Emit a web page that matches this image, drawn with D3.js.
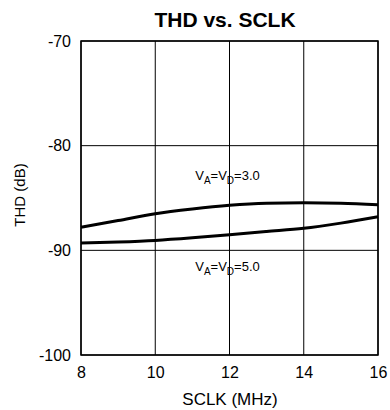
<!DOCTYPE html>
<html>
<head>
<meta charset="utf-8">
<script src="https://cdn.jsdelivr.net/npm/d3@7"></script>
<style>
  html, body { margin: 0; padding: 0; background: #fff; }
  svg { display: block; font-family: Arial, "Liberation Sans", Helvetica, sans-serif; }
</style>
</head>
<body>
<svg id="chart" width="390" height="410"></svg>
<script>
const sclk = [8, 9, 10, 11, 12, 13, 14, 15, 16];
const thd3v = [-87.8, -87.15, -86.5, -86.05, -85.7, -85.5, -85.45, -85.5, -85.65];
const thd5v = [-89.3, -89.2, -89.05, -88.8, -88.5, -88.2, -87.9, -87.4, -86.8];
const xTicks = [8, 10, 12, 14, 16];
const yTicks = [-70, -80, -90, -100];
const title = "THD vs. SCLK";
const xTitle = "SCLK (MHz)";
const yTitle = "THD (dB)";

const svg = d3.select("#chart");
const m = {left: 81, right: 378, top: 41, bottom: 355};
const x = d3.scaleLinear().domain([8, 16]).range([m.left, m.right]);
const y = d3.scaleLinear().domain([-100, -70]).range([m.bottom, m.top]);

// grid
const g = svg.append("g");
g.selectAll("line.vg").data(xTicks).join("line")
  .attr("x1", d => x(d)).attr("x2", d => x(d))
  .attr("y1", m.top).attr("y2", m.bottom)
  .attr("stroke", "#000").attr("stroke-width", 1);
g.selectAll("line.hg").data(yTicks).join("line")
  .attr("y1", d => y(d)).attr("y2", d => y(d))
  .attr("x1", m.left).attr("x2", m.right)
  .attr("stroke", "#000").attr("stroke-width", 1);
svg.append("rect").attr("x", m.left).attr("y", m.top)
  .attr("width", m.right - m.left).attr("height", m.bottom - m.top)
  .attr("fill", "none").attr("stroke", "#000").attr("stroke-width", 1.5);

// axes labels
const fmt = d => String(d);
const xAxis = d3.axisBottom(x).tickValues(xTicks).tickSize(0).tickPadding(0).tickFormat(fmt);
svg.append("g").attr("transform", `translate(0,${m.bottom})`).call(xAxis)
  .call(s => s.select(".domain").remove())
  .selectAll("text").attr("font-size", 16).attr("fill", "#000")
  .attr("font-family", "Arial, 'Liberation Sans', sans-serif")
  .attr("dy", null).attr("y", 23);
const yAxis = d3.axisLeft(y).tickValues(yTicks).tickSize(0).tickPadding(10).tickFormat(fmt);
svg.append("g").attr("transform", `translate(${m.left},0)`).call(yAxis)
  .call(s => s.select(".domain").remove())
  .selectAll("text").attr("font-size", 16).attr("fill", "#000")
  .attr("font-family", "Arial, 'Liberation Sans', sans-serif");

// lines
const line = d3.line().x((d, i) => x(sclk[i])).y(d => y(d)).curve(d3.curveMonotoneX);
[thd3v, thd5v].forEach(s => {
  svg.append("path").attr("d", line(s)).attr("fill", "none")
    .attr("stroke", "#000").attr("stroke-width", 3);
});

// curve labels
function vLabel(cx, cy, val) {
  const t = svg.append("text").attr("x", cx).attr("y", cy)
    .attr("text-anchor", "middle").attr("font-size", 13).attr("fill", "#000");
  t.append("tspan").text("V");
  t.append("tspan").attr("font-size", 10).attr("dy", 4).text("A");
  t.append("tspan").attr("dy", -4).text("=V");
  t.append("tspan").attr("font-size", 10).attr("dy", 4).text("D");
  t.append("tspan").attr("dy", -4).text("=" + val);
}
vLabel(x(12) - 2, 180, "3.0");
vLabel(x(12) - 2, 271, "5.0");

// titles
svg.append("text").attr("x", 225).attr("y", 27).attr("text-anchor", "middle")
  .attr("font-size", 21).attr("font-weight", "bold").text(title);
svg.append("text").attr("x", 230).attr("y", 405).attr("text-anchor", "middle")
  .attr("font-size", 17).text(xTitle);
svg.append("text").attr("transform", `translate(25,195) rotate(-90)`)
  .attr("text-anchor", "middle").attr("font-size", 15).text(yTitle);
</script>
</body>
</html>
